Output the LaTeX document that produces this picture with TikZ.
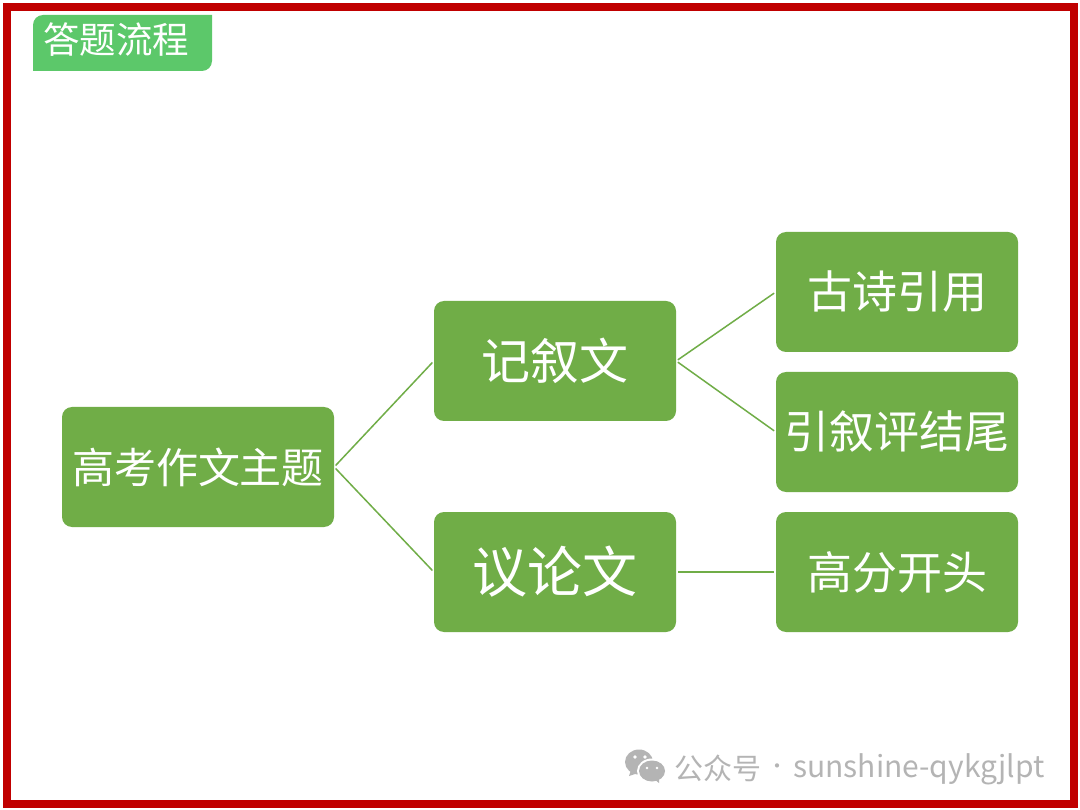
\documentclass[tikz,border=0pt]{standalone}
\usepackage{xcolor}
\usepackage{fontspec}
\setmainfont{Noto Sans CJK SC}
\definecolor{boxgreen}{HTML}{70AD47}
\definecolor{titlegreen}{HTML}{5CC86A}
\definecolor{framered}{HTML}{C00000}
\definecolor{markgray}{HTML}{B4B4B4}
\newcommand{\fsize}[1]{\fontsize{#1}{#1}\selectfont}
\tikzset{
  topicbox/.style={fill=boxgreen, rounded corners=10pt, text=white, inner sep=0pt, minimum height=120pt},
  linkline/.style={boxgreen, line width=1.5pt, shorten >=2pt, shorten <=2pt},
  marktext/.style={anchor=west, text=markgray, inner sep=0pt},
}

\begin{document}
\begin{tikzpicture}[x=1pt, y=-1pt]
\useasboundingbox (0,0) rectangle (1080,810);
\fill[white] (0,0) rectangle (1080,810);
\draw[framered, line width=8pt] (7,7) rectangle (1074,804);

%title tab
\fill[titlegreen] (33,71) -- (33,25) .. controls (33,19.5) and (37.5,15) .. (43,15) -- (212,15) -- (212,61) .. controls (212,66.5) and (207.5,71) .. (202,71) -- cycle;
\path (116,40) node[text=white, inner sep=0pt] (title) {\fsize{36.5}答题流程};

\path (198,467) node[topicbox, minimum width=272pt] (zhuti) {\fsize{42}高考作文主题};

\path (555,361) node[topicbox, minimum width=242pt] (jixu) {\fsize{49}记叙文};
\path (555,572) node[topicbox, minimum width=242pt] (yilun) {\fsize{55}议论文};

\path (897,292) node[topicbox, minimum width=242pt] (gushi) {\fsize{45}古诗引用};
\path (897,432) node[topicbox, minimum width=242pt] (yinxu) {\fsize{45}引叙评结尾};
\path (897,572) node[topicbox, minimum width=242pt] (gaofen) {\fsize{45}高分开头};

\draw[linkline] (zhuti.east) -- (jixu.west);
\draw[linkline] (zhuti.east) -- (yilun.west);
\draw[linkline] (jixu.east) -- (gushi.west);
\draw[linkline] (jixu.east) -- (yinxu.west);
\draw[linkline] (yilun.east) -- (gaofen.west);

%watermark
\fill[markgray] (639,762) ellipse (14pt and 12.5pt);
\fill[markgray] (631,770) -- (629,776) -- (638,773) -- cycle;
\fill[white] (652,771) ellipse (15pt and 12.5pt);
\fill[markgray] (652,771) ellipse (13pt and 10.5pt);
\fill[markgray] (654,779) -- (659,783) -- (659,777) -- cycle;
\fill[white] (635,757) circle (1.8pt) (645,757) circle (1.8pt) (647,768) circle (1.4pt) (657,768) circle (1.4pt);
\path (674,768) node[marktext] (mark) {\fsize{29}公众号};
\path (767,769) node[marktext] (markdot) {\fsize{20}·};
\path (793,769) node[marktext] (markname) {\fsize{30}sunshine-qykgjlpt};
\end{tikzpicture}
\end{document}
